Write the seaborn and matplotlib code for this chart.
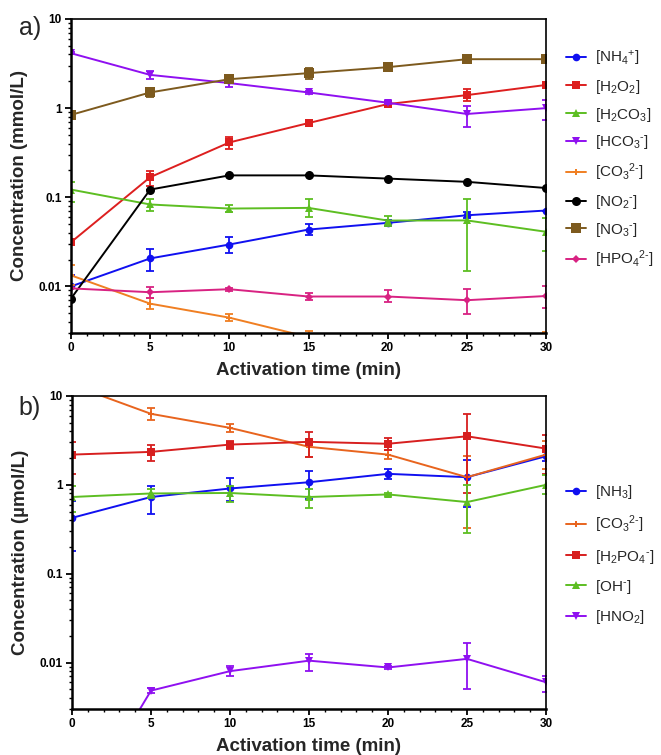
import numpy as np
import pandas as pd
import matplotlib
matplotlib.use("Agg")
import matplotlib.pyplot as plt
from matplotlib import font_manager
from matplotlib.ticker import FixedLocator, LogLocator, NullFormatter, MultipleLocator
import seaborn as sns

# ---------------- data ----------------
t = [0, 5, 10, 15, 20, 25, 30]

# panel a (mmol/L)
nh4 = [0.010, 0.0206, 0.0295, 0.0434, 0.0516, 0.0628, 0.071]
nh4_lo = [0.0068, 0.0148, 0.0235, 0.0380, 0.0470, 0.0580, 0.071]
nh4_hi = [0.0134, 0.0266, 0.0360, 0.0500, 0.0560, 0.0680, 0.071]
h2o2 = [0.0313, 0.168, 0.412, 0.68, 1.11, 1.40, 1.82]
h2o2_lo = [0.0313, 0.135, 0.350, 0.63, 1.03, 1.21, 1.72]
h2o2_hi = [0.0313, 0.199, 0.480, 0.73, 1.19, 1.63, 1.92]
h2co3 = [0.122, 0.083, 0.0747, 0.076, 0.0548, 0.055, 0.041]
h2co3_lo = [0.088, 0.0697, 0.068, 0.0597, 0.0482, 0.0148, 0.025]
h2co3_hi = [0.150, 0.096, 0.082, 0.096, 0.0624, 0.096, 0.058]
hco3 = [4.13, 2.36, 1.91, 1.50, 1.15, 0.86, 1.00]
hco3_lo = [4.0, 2.14, 1.72, 1.45, 1.10, 0.62, 0.73]
hco3_hi = [4.3, 2.60, 2.11, 1.56, 1.20, 1.06, 1.24]
co3a = [0.0133, 0.0064, 0.00446, 0.0027, 0.0022, 0.0012, 0.0022]
co3a_lo = [0.0104, 0.00553, 0.0041, 0.0021, 0.0020, 0.0003, 0.0015]
co3a_hi = [0.0172, 0.00734, 0.0049, 0.0032, 0.0025, 0.0021, 0.0031]
no2 = [0.0073, 0.122, 0.176, 0.176, 0.162, 0.149, 0.127]
no2_lo = no2
no2_hi = no2
no3 = [0.84, 1.50, 2.11, 2.47, 2.88, 3.54, 3.54]
no3_lo = [0.78, 1.32, 1.95, 2.15, 2.65, 3.20, 3.25]
no3_hi = [0.92, 1.70, 2.30, 2.85, 3.15, 3.90, 3.85]
hpo4 = [0.0095, 0.0086, 0.0093, 0.0077, 0.0077, 0.0070, 0.0078]
hpo4_lo = [0.0095, 0.0074, 0.0089, 0.0070, 0.0066, 0.0049, 0.0057]
hpo4_hi = [0.0095, 0.0099, 0.0097, 0.0084, 0.0090, 0.0093, 0.0100]

# panel b (umol/L)
nh3 = [0.425, 0.73, 0.91, 1.07, 1.33, 1.22, 2.10]
nh3_lo = [0.18, 0.475, 0.65, 0.70, 1.17, 0.56, 1.85]
nh3_hi = [0.65, 0.96, 1.18, 1.42, 1.51, 1.88, 2.40]
co3b = [13.3, 6.3, 4.38, 2.68, 2.19, 1.22, 2.19]
co3b_lo = [13.3, 5.3, 3.95, 2.07, 1.97, 0.33, 1.49]
co3b_hi = [13.3, 7.4, 4.85, 3.23, 2.45, 2.10, 3.10]
h2po4 = [2.19, 2.35, 2.84, 3.05, 2.90, 3.52, 2.56]
h2po4_lo = [1.33, 1.84, 2.55, 2.07, 2.45, 0.81, 1.34]
h2po4_hi = [3.00, 2.79, 3.15, 3.95, 3.40, 6.30, 3.60]
oh = [0.73, 0.80, 0.81, 0.73, 0.78, 0.64, 1.00]
oh_lo = [0.49, 0.72, 0.64, 0.55, 0.74, 0.29, 0.78]
oh_hi = [0.96, 0.89, 0.98, 0.89, 0.82, 1.00, 1.28]
hno2 = [0.00016, 0.00483, 0.0080, 0.0105, 0.0088, 0.0110, 0.0060]
hno2_lo = [0.00016, 0.0045, 0.0070, 0.0080, 0.0085, 0.0050, 0.0047]
hno2_hi = [0.00016, 0.0052, 0.0091, 0.0124, 0.0092, 0.0166, 0.0071]

labels_a = [r"[NH$_4$$^{+}$]", r"[H$_2$O$_2$]", r"[H$_2$CO$_3$]", r"[HCO$_3$$^{\text{-}}$]",
            r"[CO$_3$$^{2\text{-}}$]", r"[NO$_2$$^{\text{-}}$]", r"[NO$_3$$^{\text{-}}$]",
            r"[HPO$_4$$^{2\text{-}}$]"]
labels_b = [r"[NH$_3$]", r"[CO$_3$$^{2\text{-}}$]", r"[H$_2$PO$_4$$^{\text{-}}$]",
            r"[OH$^{\text{-}}$]", r"[HNO$_2$]"]

# ---------------- style ----------------
sns.set_theme(style="ticks")


def pick(fams):
    for f in fams:
        try:
            font_manager.findfont(f, fallback_to_default=False)
            return f
        except Exception:
            pass
    return "DejaVu Sans"


reg = pick(["Liberation Sans", "Arial"])
plt.rcParams["font.family"] = [reg, "DejaVu Sans"]
plt.rcParams["mathtext.fontset"] = "custom"
plt.rcParams["mathtext.rm"] = reg
plt.rcParams["mathtext.it"] = reg
plt.rcParams["mathtext.bf"] = reg + ":bold"
plt.rcParams["mathtext.default"] = "regular"

fig = plt.figure(figsize=(6.61, 7.55), dpi=100)
ax_a = fig.add_axes([71 / 661, 1 - 333 / 755, 475 / 661, 314 / 755])
ax_b = fig.add_axes([72 / 661, 1 - 709 / 755, 474 / 661, 313 / 755])

series_a = [
    (nh4, nh4_lo, nh4_hi, "#1010F0", "o", 5.5),
    (h2o2, h2o2_lo, h2o2_hi, "#DD1F1F", "s", 5.5),
    (h2co3, h2co3_lo, h2co3_hi, "#5DBE22", "^", 5.5),
    (hco3, hco3_lo, hco3_hi, "#8F10F0", "v", 5.5),
    (co3a, co3a_lo, co3a_hi, "#F07F22", "P", 4.5),
    (no2, no2_lo, no2_hi, "#000000", "o", 6.5),
    (no3, no3_lo, no3_hi, "#7D5A1E", "s", 7.0),
    (hpo4, hpo4_lo, hpo4_hi, "#D82282", "D", 4.5),
]
series_b = [
    (nh3, nh3_lo, nh3_hi, "#1010F0", "o", 5.5),
    (co3b, co3b_lo, co3b_hi, "#E8641E", "P", 4.5),
    (h2po4, h2po4_lo, h2po4_hi, "#D71F1F", "s", 5.5),
    (oh, oh_lo, oh_hi, "#5DBE22", "^", 5.5),
    (hno2, hno2_lo, hno2_hi, "#8F10F0", "v", 5.5),
]


def draw(ax, series, labels):
    for (v, lo, hi, c, m, ms), lab in zip(series, labels):
        df = pd.DataFrame({"t": t, "v": v})
        sns.lineplot(data=df, x="t", y="v", color=c, marker=m, markersize=ms,
                     markeredgewidth=0, linewidth=1.4, ax=ax, label=lab)
        v_ = np.array(v)
        yerr = [v_ - np.array(lo), np.array(hi) - v_]
        ax.errorbar(t, v, yerr=yerr, fmt="none", ecolor=c, elinewidth=1.3,
                    capsize=3, capthick=1.3)
    ax.set_yscale("log")
    ax.set_xlim(0, 30)
    ax.set_ylim(0.003, 10)
    ax.xaxis.set_major_locator(FixedLocator(t))
    ax.xaxis.set_minor_locator(MultipleLocator(1))
    ax.yaxis.set_major_locator(FixedLocator([0.01, 0.1, 1, 10]))
    ax.yaxis.set_minor_locator(LogLocator(base=10, subs=np.arange(2, 10)))
    ax.yaxis.set_minor_formatter(NullFormatter())
    ax.set_yticklabels(["0.01", "0.1", "1", "10"])
    ax.set_xticklabels([str(x) for x in t])
    for lab in ax.get_xticklabels() + ax.get_yticklabels():
        lab.set_fontweight("bold")
        lab.set_fontsize(8.5)
    ax.tick_params(which="major", direction="out", length=4.5, width=1.3, pad=2, colors="black")
    ax.tick_params(which="minor", direction="out", length=2.5, width=1.0, colors="black")
    for s in ["left", "bottom"]:
        ax.spines[s].set_linewidth(1.8)
    for s in ["top", "right"]:
        ax.spines[s].set_linewidth(1.2)
    for s in ax.spines.values():
        s.set_color("black")
    ax.set_xlabel("Activation time (min)", fontsize=13.5, fontweight="bold", labelpad=6)
    ax.grid(False)
    ax.set_facecolor("white")


draw(ax_a, series_a, labels_a)
draw(ax_b, series_b, labels_b)
ax_a.set_ylabel("Concentration (mmol/L)", fontsize=13.5, fontweight="bold", labelpad=8)
ax_b.set_ylabel("Concentration (\u00b5mol/L)", fontsize=13.5, fontweight="bold", labelpad=8)

for ax, anchor, sp in [(ax_a, (1.03, 0.925), 0.65), (ax_b, (1.03, 0.74), 0.8)]:
    h, l = ax.get_legend_handles_labels()
    ax.legend(h, l, loc="upper left", bbox_to_anchor=anchor, frameon=False,
              fontsize=11, handlelength=1.3, handletextpad=0.6, labelspacing=sp,
              borderaxespad=0)

fig.text(30 / 661, 1 - 28 / 755, "a)", fontsize=18, ha="center", va="center", family=reg)
fig.text(30 / 661, 1 - 408 / 755, "b)", fontsize=18, ha="center", va="center", family=reg)

fig.savefig("out.png", dpi=100, facecolor="white")
